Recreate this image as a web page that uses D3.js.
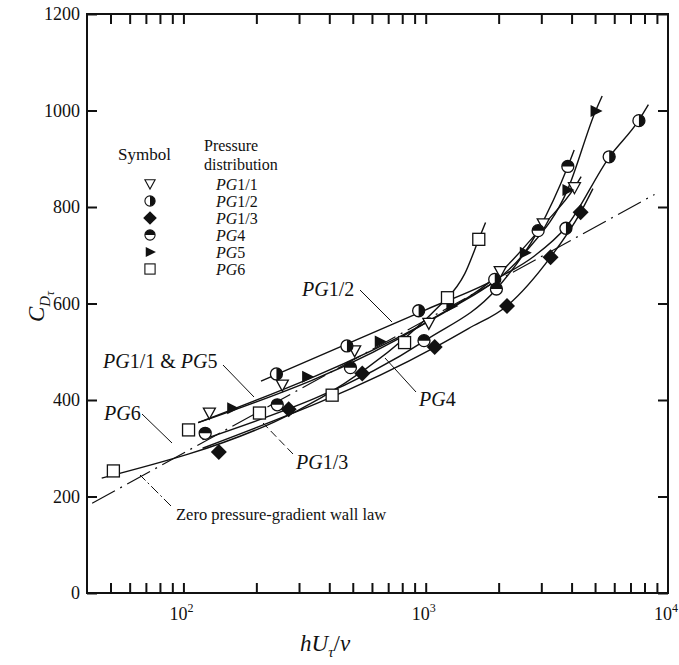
<!DOCTYPE html>
<html>
<head>
<meta charset="utf-8">
<script src="https://cdn.jsdelivr.net/npm/d3@7"></script>
<style>
body { margin: 0; background: #fff; }
text { font-family: "Liberation Serif", "DejaVu Serif", serif; fill: #111; }
</style>
</head>
<body>
<script>
// measured points  [hU/nu, C_D]
var pg11 = [[128,373],[256,431],[509,502],[1030,559],[2030,666],[3055,765],[4110,840]];
var pg12 = [[242,454],[473,512],[935,585],[1927,650],[3791,756],[5717,904],[7585,979]];
var pg13 = [[140,292],[272,381],[547,455],[1089,510],[2165,595],[3275,696],[4360,789]];
var pg4  = [[123,331],[244,390],[489,467],[984,523],[1958,630],[2911,751],[3860,884]];
var pg5  = [[159,383],[324,448],[646,521],[1276,595],[2564,705],[3845,835],[5024,999]];
var pg6  = [[51.4,253],[105,338],[206,373],[411,410],[818,519],[1230,612],[1656,733]];

// faired curves
var pg11Curve = [[115,353],[1000,560],[2030,664],[3055,762],[4110,840],[4380,863]];
var pg12Curve = [[209,439],[1000,587],[1900,648],[2800,698],[3791,758],[5717,903],[7585,980],[8300,1012]];
var pg13Curve = [[120,300],[1100,510],[1500,548],[2165,595],[3275,696],[4360,789],[4900,838]];
var pg4Curve  = [[120,318],[1000,524],[1958,630],[2911,751],[3860,884],[4100,918]];
var pg5Curve  = [[115,353],[1000,560],[1276,590],[2564,705],[3845,835],[5024,999],[5350,1030]];
var pg6Curve  = [[46,238],[1230,612],[1450,662],[1656,733],[1766,768]];
var wallLaw   = [[42,186],[8800,826]];

var legendNames = ["PG1/1", "PG1/2", "PG1/3", "PG4", "PG5", "PG6"];
var yTicks = [0, 200, 400, 600, 800, 1000, 1200];
var xMinor = [50,60,70,80,90,100,200,300,400,500,600,700,800,900,1000,2000,3000,4000,5000,6000,7000,8000,9000];
var xLabelTicks = [100, 1000, 10000];

var svg = d3.select("body").append("svg")
    .attr("width", 679)
    .attr("height", 665);

var x = d3.scaleLog().domain([40, 10000]).range([87, 668]);
var y = d3.scaleLinear().domain([0, 1200]).range([593, 14]);

// frame and ticks (all pointing inward)
function plainAxis(g) {
    g.selectAll("text").remove();
    g.select(".domain").remove();
    g.selectAll("line").attr("stroke", "#111").attr("stroke-width", 2);
}
svg.append("g").attr("transform", "translate(0,593)")
    .call(d3.axisBottom(x).tickValues(xMinor).tickSize(-10).tickFormat(""))
    .call(plainAxis);
svg.append("g").attr("transform", "translate(0,14)")
    .call(d3.axisTop(x).tickValues(xMinor).tickSize(-10).tickFormat(""))
    .call(plainAxis);
svg.append("g").attr("transform", "translate(87,0)")
    .call(d3.axisLeft(y).tickValues(yTicks).tickSize(-10).tickFormat(""))
    .call(plainAxis);
svg.append("g").attr("transform", "translate(668,0)")
    .call(d3.axisRight(y).tickValues(yTicks).tickSize(-10).tickFormat(""))
    .call(plainAxis);

svg.append("rect")
    .attr("x", 87).attr("y", 14)
    .attr("width", 668 - 87).attr("height", 593 - 14)
    .attr("fill", "none").attr("stroke", "#111").attr("stroke-width", 2);

// tick labels
svg.selectAll(".ylab").data(yTicks).enter().append("text")
    .attr("x", 80)
    .attr("y", function(d) { return y(d) + 6; })
    .attr("text-anchor", "end")
    .style("font-size", "18px")
    .text(function(d) { return d; });

var xl = svg.selectAll(".xlab").data(xLabelTicks).enter().append("text")
    .attr("x", function(d) { return x(d) - 2; })
    .attr("y", 620)
    .attr("text-anchor", "middle")
    .style("font-size", "18px");
xl.append("tspan").text("10");
xl.append("tspan").attr("dy", -8).style("font-size", "12px")
    .text(function(d) { return Math.round(Math.log10(d)); });

// axis titles
var xt = svg.append("text").attr("x", 300).attr("y", 651).style("font-size", "23px");
xt.append("tspan").style("font-style", "italic").text("hU");
xt.append("tspan").attr("dy", 6).style("font-size", "15px").style("font-style", "italic").text("τ");
xt.append("tspan").attr("dy", -6).text("/");
xt.append("tspan").style("font-style", "italic").text("ν");

var yt = svg.append("text").attr("transform", "translate(44,322) rotate(-90)").style("font-size", "23px");
yt.append("tspan").style("font-style", "italic").text("C");
yt.append("tspan").attr("dy", 6).style("font-size", "15px").style("font-style", "italic").text("D");
yt.append("tspan").attr("dy", 4).style("font-size", "13px").style("font-style", "italic").text("τ");

// curves
var line = d3.line()
    .x(function(d) { return x(d[0]); })
    .y(function(d) { return y(d[1]); })
    .curve(d3.curveMonotoneX);

var curves = [pg11Curve, pg12Curve, pg13Curve, pg4Curve, pg5Curve, pg6Curve];
svg.selectAll(".curve").data(curves).enter().append("path")
    .attr("class", "curve")
    .attr("d", line)
    .attr("fill", "none")
    .attr("stroke", "#111")
    .attr("stroke-width", 1.4);

svg.append("path")
    .attr("d", line(wallLaw))
    .attr("fill", "none")
    .attr("stroke", "#111")
    .attr("stroke-width", 1.2)
    .attr("stroke-dasharray", "26,6,2,6");

// markers
var r = 6;
function drawMarker(g, kind) {
    if (kind == 0) {
        g.append("path").attr("d", "M-6,-5L6,-5L0,6Z")
            .attr("fill", "#fff").attr("stroke", "#111").attr("stroke-width", 1.3);
    } else if (kind == 1) {
        g.append("circle").attr("r", r).attr("fill", "#fff").attr("stroke", "#111").attr("stroke-width", 1.3);
        g.append("path").attr("d", "M0," + (-r) + "A" + r + "," + r + " 0 0 1 0," + r + "Z").attr("fill", "#111");
    } else if (kind == 2) {
        g.append("path").attr("d", "M0,-8L8,0L0,8L-8,0Z").attr("fill", "#111");
    } else if (kind == 3) {
        g.append("circle").attr("r", r).attr("fill", "#fff").attr("stroke", "#111").attr("stroke-width", 1.3);
        g.append("path").attr("d", "M" + (-r) + ",0A" + r + "," + r + " 0 0 1 " + r + ",0Z").attr("fill", "#111");
    } else if (kind == 4) {
        g.append("path").attr("d", "M-5,-6L7,0L-5,6Z").attr("fill", "#111");
    } else {
        g.append("rect").attr("x", -6).attr("y", -6).attr("width", 12).attr("height", 12)
            .attr("fill", "#fff").attr("stroke", "#111").attr("stroke-width", 1.3);
    }
}

var allSeries = [pg11, pg12, pg13, pg4, pg5, pg6];
allSeries.forEach(function(pts, k) {
    pts.forEach(function(d) {
        var g = svg.append("g").attr("transform", "translate(" + x(d[0]) + "," + y(d[1]) + ")");
        drawMarker(g, k);
    });
});

// legend
svg.append("text").attr("x", 118).attr("y", 160).style("font-size", "17px").text("Symbol");
svg.append("text").attr("x", 204).attr("y", 151).style("font-size", "16px").text("Pressure");
svg.append("text").attr("x", 204).attr("y", 170).style("font-size", "16px").text("distribution");

function pgLabel(sel, name) {
    sel.append("tspan").style("font-style", "italic").text("PG");
    sel.append("tspan").text(name.slice(2));
}

legendNames.forEach(function(name, i) {
    var cy = 184 + i * 17;
    var g = svg.append("g").attr("transform", "translate(150," + cy + ") scale(0.85)");
    drawMarker(g, i);
    var t = svg.append("text").attr("x", 216).attr("y", cy + 6).style("font-size", "16px");
    pgLabel(t, name);
});

// annotations
function leader(x1, y1, x2, y2, dash) {
    svg.append("line").attr("x1", x1).attr("y1", y1).attr("x2", x2).attr("y2", y2)
        .attr("stroke", "#111").attr("stroke-width", 1)
        .attr("stroke-dasharray", dash || null);
}

var t1 = svg.append("text").attr("x", 302).attr("y", 296).style("font-size", "20px");
pgLabel(t1, "PG1/2");
leader(360, 290, 392, 322);

var t2 = svg.append("text").attr("x", 103).attr("y", 368).style("font-size", "20px");
t2.append("tspan").style("font-style", "italic").text("PG");
t2.append("tspan").text("1/1 & ");
t2.append("tspan").style("font-style", "italic").text("PG");
t2.append("tspan").text("5");
leader(223, 365, 254, 397);

var t3 = svg.append("text").attr("x", 104).attr("y", 420).style("font-size", "20px");
pgLabel(t3, "PG6");
leader(142, 414, 172, 443);

var t4 = svg.append("text").attr("x", 419).attr("y", 406).style("font-size", "20px");
pgLabel(t4, "PG4");
leader(416, 392, 385, 358);

var t5 = svg.append("text").attr("x", 296).attr("y", 469).style("font-size", "20px");
pgLabel(t5, "PG1/3");
leader(293, 454, 263, 423, "8,4");

svg.append("text").attr("x", 176).attr("y", 520).style("font-size", "16.5px")
    .text("Zero pressure-gradient wall law");
leader(171, 506, 140, 475, "10,3,2,3");
</script>
</body>
</html>
